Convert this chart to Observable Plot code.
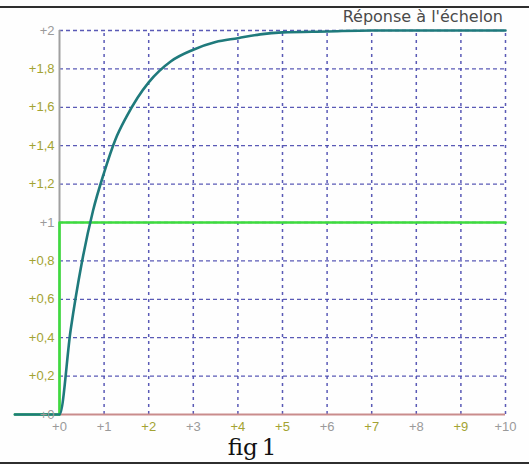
<!DOCTYPE html>
<html>
<head>
<meta charset="utf-8">
<script src="https://cdn.jsdelivr.net/npm/d3@7"></script>
<script src="https://cdn.jsdelivr.net/npm/@observablehq/plot@0.6"></script>
<style>
  html, body { margin: 0; padding: 0; background: #fff; }
  #fig { position: relative; width: 529px; height: 465px; overflow: hidden; background: #fefefe; }
  #chart { position: absolute; left: 0; top: 0; }
  .rule { position: absolute; left: 0; width: 529px; height: 2px; background: #2e2e2e; }
  #title { position: absolute; right: 26px; top: 7px; font: 16px "DejaVu Sans", sans-serif; color: #4a4a4a; white-space: nowrap; }
  #caption { position: absolute; left: 0; width: 504px; top: 434px; text-align: center; font: 23px "DejaVu Serif", serif; color: #111; }
  #caption .one { margin-left: 4px; }
</style>
</head>
<body>
<div id="fig">
  <div class="rule" style="top:6px"></div>
  <div id="chart"></div>
  <div id="title">Réponse à l'échelon</div>
  <div id="caption">fig<span class="one">1</span></div>
  <div class="rule" style="top:462px"></div>
</div>
<script>
// Step input: 0 before t = 0, then 1
const stepT = [-1, 0, 0, 10];
const stepV = [0, 0, 1, 1];

// First-order response to the step (time constant 1, gain 2)
const respT = [-1, 0, 0.25, 0.5, 0.75, 1, 1.25, 1.5, 1.75, 2, 2.5, 3, 3.5, 4, 4.5, 5, 6, 7, 8, 9, 10];
const respV = [0, 0, 0.44, 0.79, 1.06, 1.26, 1.43, 1.55, 1.65, 1.73, 1.84, 1.90, 1.94, 1.96, 1.98, 1.99, 1.995, 2, 2, 2, 2];

// Axis ticks
const xTicks = [0, 1, 2, 3, 4, 5, 6, 7, 8, 9, 10];
const yTicks = [0, 0.2, 0.4, 0.6, 0.8, 1, 1.2, 1.4, 1.6, 1.8, 2];

const step = stepT.map((t, i) => ({t, v: stepV[i]}));
const resp = respT.map((t, i) => ({t, v: respV[i]}));

const GREY = "#9a9a9a";
const OLIVE = "#a3a332";
const xInk = [GREY, GREY, OLIVE, GREY, OLIVE, OLIVE, GREY, OLIVE, GREY, OLIVE, GREY];
const fmt = d => "+" + String(d).replace(".", ",");
const font = {fontFamily: "'Liberation Sans', Arial, sans-serif", fontSize: 13};
const GRID = "#4848ae";

const chart = Plot.plot({
  width: 529,
  height: 436,
  marginTop: 30,
  marginBottom: 22,
  marginLeft: 59,
  marginRight: 24,
  x: {domain: [0, 10], axis: null},
  y: {domain: [0, 2], axis: null},
  style: {background: "transparent", overflow: "visible"},
  marks: [
    Plot.ruleX(xTicks.slice(1), {y1: 0, y2: 2, stroke: GRID, strokeOpacity: 0.9, strokeWidth: 1.5, strokeDasharray: "3,4"}),
    Plot.ruleY(yTicks.slice(1), {x1: 0, x2: 10, stroke: GRID, strokeOpacity: 0.9, strokeWidth: 1.3, strokeDasharray: "4,3"}),
    Plot.ruleX([0], {y1: 0, y2: 2, stroke: "#a0a0a0", strokeWidth: 2}),
    Plot.ruleY([0], {x1: 0, x2: 10, stroke: "#c98c8c", strokeWidth: 2.2}),
    Plot.line(step, {x: "t", y: "v", stroke: "#3ddc3d", strokeWidth: 2.6, clip: false}),
    Plot.line(resp, {x: "t", y: "v", stroke: "#1f7a7c", strokeWidth: 2.6, curve: "monotone-x"}),
    Plot.text(yTicks, {x: 0, y: d => d, text: fmt, textAnchor: "end", dx: -5,
      fill: d => (Number.isInteger(d) ? GREY : OLIVE), ...font}),
    Plot.text(xTicks, {x: d => d, y: 0, text: fmt, dy: 12,
      fill: (d, i) => xInk[i], ...font})
  ]
});
document.getElementById("chart").append(chart);
</script>
</body>
</html>
